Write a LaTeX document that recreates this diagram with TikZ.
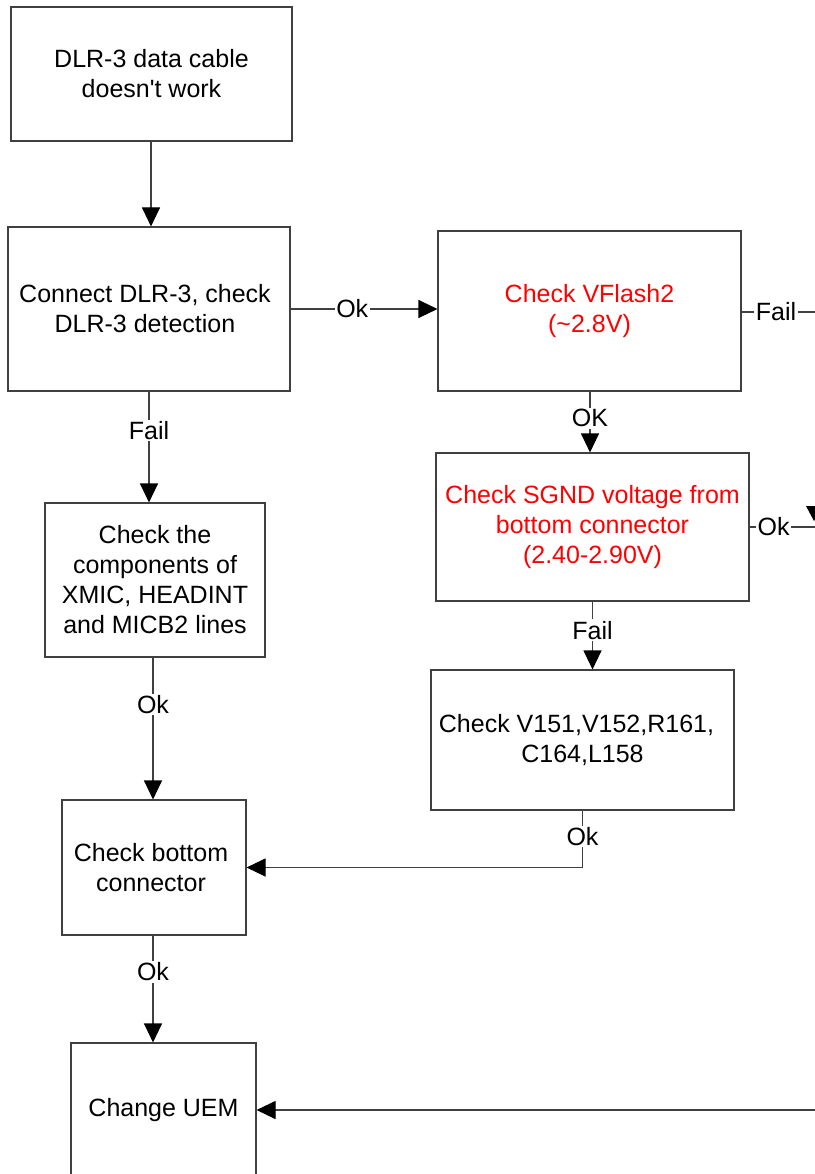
\documentclass[tikz,border=0pt]{standalone}
\usepackage{fontspec}
\setmainfont{Liberation Sans}[Ligatures=TeXOff]
\usetikzlibrary{arrows.meta}
\definecolor{redtxt}{RGB}{255,0,0}
\tikzset{
  box/.style={draw=black!75, line width=1.1pt, align=center, inner sep=0pt,
    font=\fontsize{25}{30}\selectfont},
  conn/.style={draw=black!75, line width=1.1pt},
  arr/.style={conn, -{Triangle[length=19pt,width=18pt,color=black]}},
  lbl/.style={fill=white, inner sep=1.5pt, font=\fontsize{25}{30}\selectfont}
}
\begin{document}
\begin{tikzpicture}[x=1pt,y=-1pt]
\useasboundingbox (0,0) rectangle (814,1174);
\fill[white] (0,0) rectangle (814,1174);

\node[box, minimum width=281pt, minimum height=134pt] (A) at (151.5,74) {DLR-3 data cable\\doesn't work};
\node[box, minimum width=282pt, minimum height=164pt] (B) at (149,309) {\hspace*{-8pt}Connect DLR-3, check\\\hspace*{-8pt}DLR-3 detection};
\node[box, minimum width=303pt, minimum height=160pt, text=redtxt] (C) at (589.5,311) {Check VFlash2\\(\textasciitilde 2.8V)};
\node[box, minimum width=313pt, minimum height=148pt, text=redtxt] (D) at (592.5,527) {Check SGND voltage from\\bottom connector\\(2.40-2.90V)};
\node[box, minimum width=220pt, minimum height=154pt] (E) at (155,580) {Check the\\components of\\XMIC, HEADINT\\and MICB2 lines};
\node[box, minimum width=303pt, minimum height=140pt] (F) at (582.5,740) {\hspace*{-12pt}Check V151,V152,R161,\\C164,L158};
\node[box, minimum width=184pt, minimum height=135pt] (G) at (154,867.5) {\hspace*{-6pt}Check bottom\\\hspace*{-6pt}connector};
\node[box, minimum width=185pt, minimum height=134pt] (H) at (163.5,1110) {Change UEM};

\coordinate (cfail) at (830,310);
\coordinate (dok) at (830,527);
\coordinate (hin) at (830,1110);

% connectors
\draw[arr] ([xshift=-0.5pt]A.south) -- ([xshift=-0.5pt]A.south |- B.north);
\draw[arr] (B.east) -- node[lbl, pos=0.42] {Ok} (B.east -| C.west);
\draw[conn] ([yshift=-1pt]C.east) -- node[lbl, pos=0.39] {Fail} ([yshift=-1pt]C.east -| cfail);
\draw[arr] ([xshift=0.5pt]C.south) -- node[lbl, pos=0.44] {OK} ([xshift=0.5pt]C.south |- D.north);
\draw[conn] (D.east) -- node[lbl, pos=0.3] {Ok} (dok);
\draw[arr] (B.south) -- node[lbl, pos=0.35] {Fail} (B.south |- E.north);
\draw[arr] ([xshift=-2pt]E.south) -- node[lbl, pos=0.33] {Ok} ([xshift=-2pt]E.south |- G.north);
\draw[arr] (D.south) -- node[lbl, pos=0.42] {Fail} (D.south |- F.north);
\draw[arr] (F.south) -- node[lbl, pos=0.45] {Ok} (F.south |- G.east) -- (G.east);
\draw[arr] ([xshift=-1pt]G.south) -- node[lbl, pos=0.34] {Ok} ([xshift=-1pt]G.south |- H.north);
\draw[arr] (hin) -- (H.east);
% partial arrowhead at the right edge
\fill[black] (806,506) -- (822,506) -- (814,521) -- cycle;
\end{tikzpicture}
\end{document}
